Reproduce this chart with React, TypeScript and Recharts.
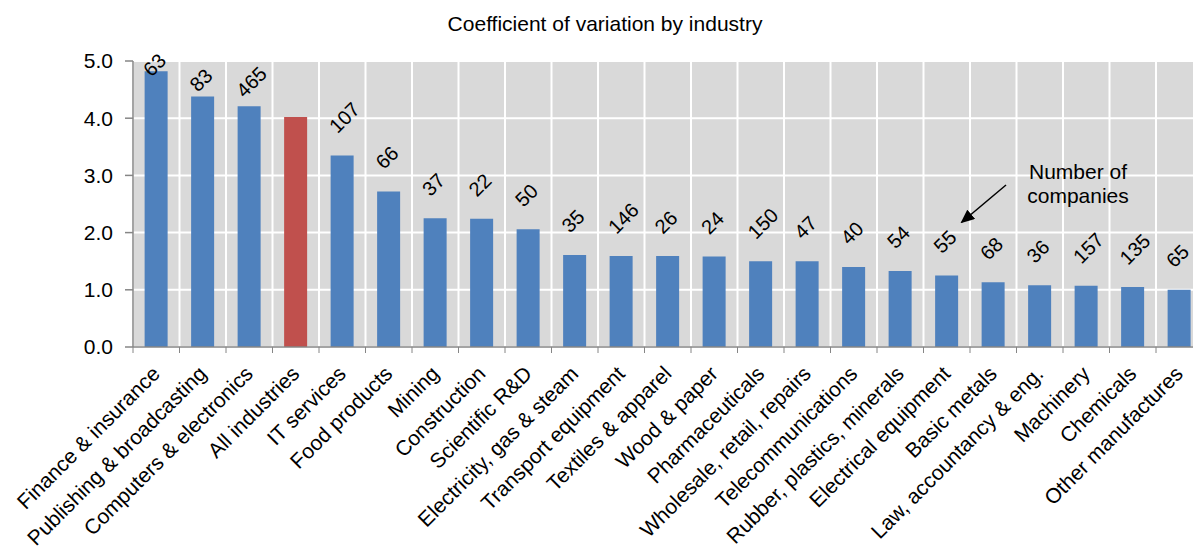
import React from "react";
import { BarChart, Bar, XAxis, YAxis, CartesianGrid, Cell, LabelList } from "recharts";

const categories = [
  "Finance & insurance",
  "Publishing & broadcasting",
  "Computers & electronics",
  "All industries",
  "IT services",
  "Food products",
  "Mining",
  "Construction",
  "Scientific R&D",
  "Electricity, gas & steam",
  "Transport equipment",
  "Textiles & apparel",
  "Wood & paper",
  "Pharmaceuticals",
  "Wholesale, retail, repairs",
  "Telecommunications",
  "Rubber, plastics, minerals",
  "Electrical equipment",
  "Basic metals",
  "Law, accountancy & eng.",
  "Machinery",
  "Chemicals",
  "Other manufactures",
];

const coefficientOfVariation = [
  4.82, 4.38, 4.21, 4.02, 3.35, 2.72, 2.25, 2.24, 2.06, 1.61, 1.59, 1.59, 1.58,
  1.5, 1.5, 1.4, 1.33, 1.25, 1.13, 1.08, 1.07, 1.05, 1.0,
];

const numberOfCompanies: (number | null)[] = [
  63, 83, 465, null, 107, 66, 37, 22, 50, 35, 146, 26, 24, 150, 47, 40, 54, 55,
  68, 36, 157, 135, 65,
];

const yTicks = [0, 1, 2, 3, 4, 5];
const highlighted = "All industries";

const title = "Coefficient of variation by industry";
const annotationLines = ["Number of", "companies"];

const FONT = "'Liberation Sans', Arial, Helvetica, sans-serif";
const BLUE = "#4F81BD";
const RED = "#C0504D";
const AXIS = "#868686";

const data = categories.map((name, i) => ({
  name,
  cv: coefficientOfVariation[i],
  companies: numberOfCompanies[i],
}));

const CHART_W = 1220;
const CHART_H = 549;
const MARGIN = { top: 61, right: 17.5, bottom: 0, left: 63 };
const Y_AXIS_W = 70;
const X_AXIS_H = 202;
const PLOT_W = CHART_W - MARGIN.left - MARGIN.right - Y_AXIS_W;
const BAND = PLOT_W / categories.length;

const CategoryTick = (props: any) => {
  const { x, y, payload, index } = props;
  const left = x - BAND / 2;
  const right = x + BAND / 2;
  const isLast = index === categories.length - 1;
  const ax = x + 5;
  const ay = y + 28;
  return (
    <g>
      <line x1={left} y1={y} x2={left} y2={y + 6} stroke={AXIS} strokeWidth={1} />
      {isLast && <line x1={right} y1={y} x2={right} y2={y + 6} stroke={AXIS} strokeWidth={1} />}
      <text
        x={ax}
        y={ay}
        textAnchor="end"
        transform={`rotate(-45 ${ax} ${ay})`}
        fontSize={21}
        fontFamily={FONT}
        fill="#000"
      >
        {payload.value}
      </text>
    </g>
  );
};

const CompanyLabel = (props: any) => {
  const { x, y, width, value } = props;
  if (value === null || value === undefined) return null;
  const cx = x + width / 2 - 9.5;
  const cy = Math.max(y - 26, 0.6 * y + 30);
  return (
    <text
      x={cx}
      y={cy}
      textAnchor="start"
      dominantBaseline="central"
      transform={`rotate(-45 ${cx} ${cy})`}
      fontSize={20}
      fontFamily={FONT}
      fill="#000"
    >
      {value}
    </text>
  );
};

export default function App() {
  return (
    <div
      style={{
        position: "absolute",
        left: 0,
        top: 0,
        width: 1193,
        height: 549,
        overflow: "hidden",
        background: "#fff",
      }}
    >
      <BarChart
        width={CHART_W}
        height={CHART_H}
        data={data}
        margin={MARGIN}
        barCategoryGap="25%"
      >
        <CartesianGrid
          fill="#D9D9D9"
          fillOpacity={1}
          stroke="#FFFFFF"
          strokeWidth={2}
          verticalCoordinatesGenerator={({ offset }: any) =>
            Array.from(
              { length: categories.length + 1 },
              (_, i) => offset.left + (i * offset.width) / categories.length
            )
          }
        />
        <XAxis
          dataKey="name"
          interval={0}
          height={X_AXIS_H}
          tickLine={false}
          tickSize={0}
          tickMargin={0}
          axisLine={{ stroke: AXIS, strokeWidth: 1.5 }}
          tick={<CategoryTick />}
        />
        <YAxis
          width={Y_AXIS_W}
          domain={[0, 5]}
          ticks={yTicks}
          tickFormatter={(v: number) => v.toFixed(1)}
          tickSize={8}
          tickMargin={12}
          axisLine={{ stroke: AXIS, strokeWidth: 1.5 }}
          tickLine={{ stroke: AXIS, strokeWidth: 1.5 }}
          tick={{ fontSize: 21, fontFamily: FONT, fill: "#000" }}
          allowDataOverflow
        />
        <Bar dataKey="cv" isAnimationActive={false}>
          {data.map((d) => (
            <Cell key={d.name} fill={d.name === highlighted ? RED : BLUE} />
          ))}
          <LabelList dataKey="companies" content={<CompanyLabel />} />
        </Bar>
      </BarChart>
      <svg
        width={1193}
        height={549}
        style={{ position: "absolute", left: 0, top: 0, pointerEvents: "none" }}
      >
        <defs>
          <marker
            id="arrowhead"
            markerWidth="14"
            markerHeight="12"
            refX="12"
            refY="6"
            orient="auto"
            markerUnits="userSpaceOnUse"
          >
            <path d="M0,0 L14,6 L0,12 z" fill="#000" />
          </marker>
        </defs>
        <text
          x={605}
          y={31}
          textAnchor="middle"
          fontSize={21}
          fontFamily={FONT}
          fill="#000"
        >
          {title}
        </text>
        {annotationLines.map((line, i) => (
          <text
            key={line}
            x={1078}
            y={179 + i * 24}
            textAnchor="middle"
            fontSize={21}
            fontFamily={FONT}
            fill="#000"
          >
            {line}
          </text>
        ))}
        <line
          x1={1006}
          y1={185}
          x2={962}
          y2={222}
          stroke="#000"
          strokeWidth={1.5}
          markerEnd="url(#arrowhead)"
        />
      </svg>
    </div>
  );
}
